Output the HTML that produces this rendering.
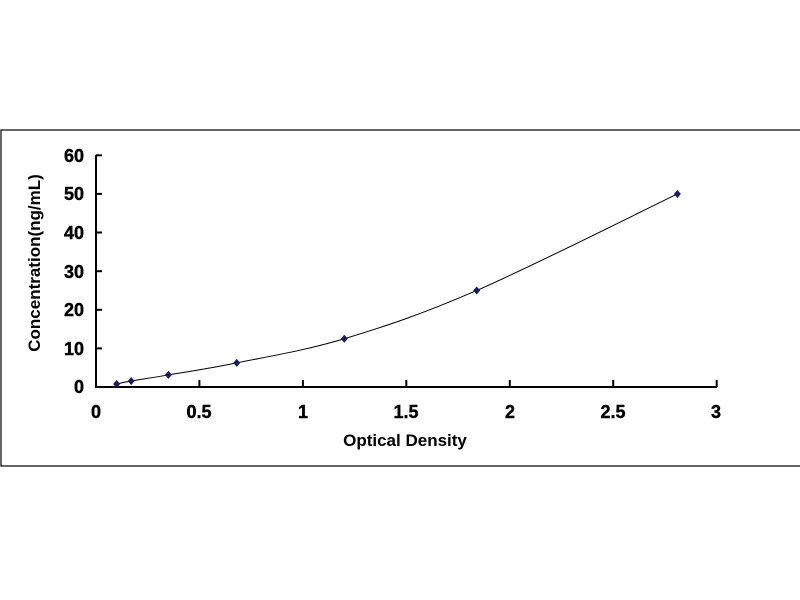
<!DOCTYPE html>
<html><head><meta charset="utf-8"><style>
body{margin:0;background:#fff;width:800px;height:600px;overflow:hidden}
svg{display:block}
text{font-family:"Liberation Sans",Arial,sans-serif;font-weight:bold;fill:#000}
</style></head><body>
<svg width="800" height="600" xmlns="http://www.w3.org/2000/svg">
<rect x="1" y="130" width="820" height="336" fill="none" stroke="#000" stroke-width="1.2"/>
<g stroke="#000" stroke-width="2" fill="none">
<line x1="96" y1="155" x2="96" y2="387"/>
<line x1="95" y1="387" x2="717" y2="387"/>
<line x1="96" y1="155.3" x2="102" y2="155.3"/>
<line x1="96" y1="193.9" x2="102" y2="193.9"/>
<line x1="96" y1="232.5" x2="102" y2="232.5"/>
<line x1="96" y1="271.2" x2="102" y2="271.2"/>
<line x1="96" y1="309.8" x2="102" y2="309.8"/>
<line x1="96" y1="348.4" x2="102" y2="348.4"/>
<line x1="199.4" y1="387" x2="199.4" y2="380"/>
<line x1="302.9" y1="387" x2="302.9" y2="380"/>
<line x1="406.3" y1="387" x2="406.3" y2="380"/>
<line x1="509.8" y1="387" x2="509.8" y2="380"/>
<line x1="613.2" y1="387" x2="613.2" y2="380"/>
<line x1="716.7" y1="387" x2="716.7" y2="380"/>
</g>
<g font-size="18" text-anchor="end" stroke="#000" stroke-width="0.4">
<text x="84" y="162">60</text><text x="84" y="200">50</text><text x="84" y="239">40</text>
<text x="84" y="278">30</text><text x="84" y="316">20</text><text x="84" y="355">10</text><text x="84" y="393">0</text>
</g>
<g font-size="18" text-anchor="middle" stroke="#000" stroke-width="0.4">
<text x="96" y="418">0</text><text x="199" y="418">0.5</text><text x="303" y="418">1</text>
<text x="406" y="418">1.5</text><text x="510" y="418">2</text><text x="613" y="418">2.5</text><text x="716" y="418">3</text>
</g>
<text x="405" y="446" font-size="17" text-anchor="middle">Optical Density</text>
<text transform="translate(40,263) rotate(-90)" font-size="17" text-anchor="middle">Concentration(ng/mL)</text>
<path id="curve" fill="none" stroke="#000" stroke-width="1"/>
<g id="pts" fill="#1a1a5e"></g>
</svg>
<script>
var d=[[0.1,0.78],[0.17,1.56],[0.35,3.125],[0.68,6.25],[1.2,12.5],[1.84,25],[2.81,50]];
function X(v){return 96+v*206.9}function Y(v){return 387-v*3.861}
var p=d.map(function(a){return [X(a[0]),Y(a[1])]});
var s="M"+p[0][0]+","+p[0][1];
for(var i=0;i<p.length-1;i++){var p0=p[i-1]||p[i],p1=p[i],p2=p[i+1],p3=p[i+2]||p[i+1];
s+=" C"+(p1[0]+(p2[0]-p0[0])/6)+","+(p1[1]+(p2[1]-p0[1])/6)+" "+(p2[0]-(p3[0]-p1[0])/6)+","+(p2[1]-(p3[1]-p1[1])/6)+" "+p2[0]+","+p2[1];}
document.getElementById("curve").setAttribute("d",s);
var g=document.getElementById("pts"),h="";
p.forEach(function(q){h+='<polygon points="'+q[0]+','+(q[1]-4)+' '+(q[0]+3.5)+','+q[1]+' '+q[0]+','+(q[1]+4)+' '+(q[0]-3.5)+','+q[1]+'"/>'});
g.innerHTML=h;
</script>
</body></html>
